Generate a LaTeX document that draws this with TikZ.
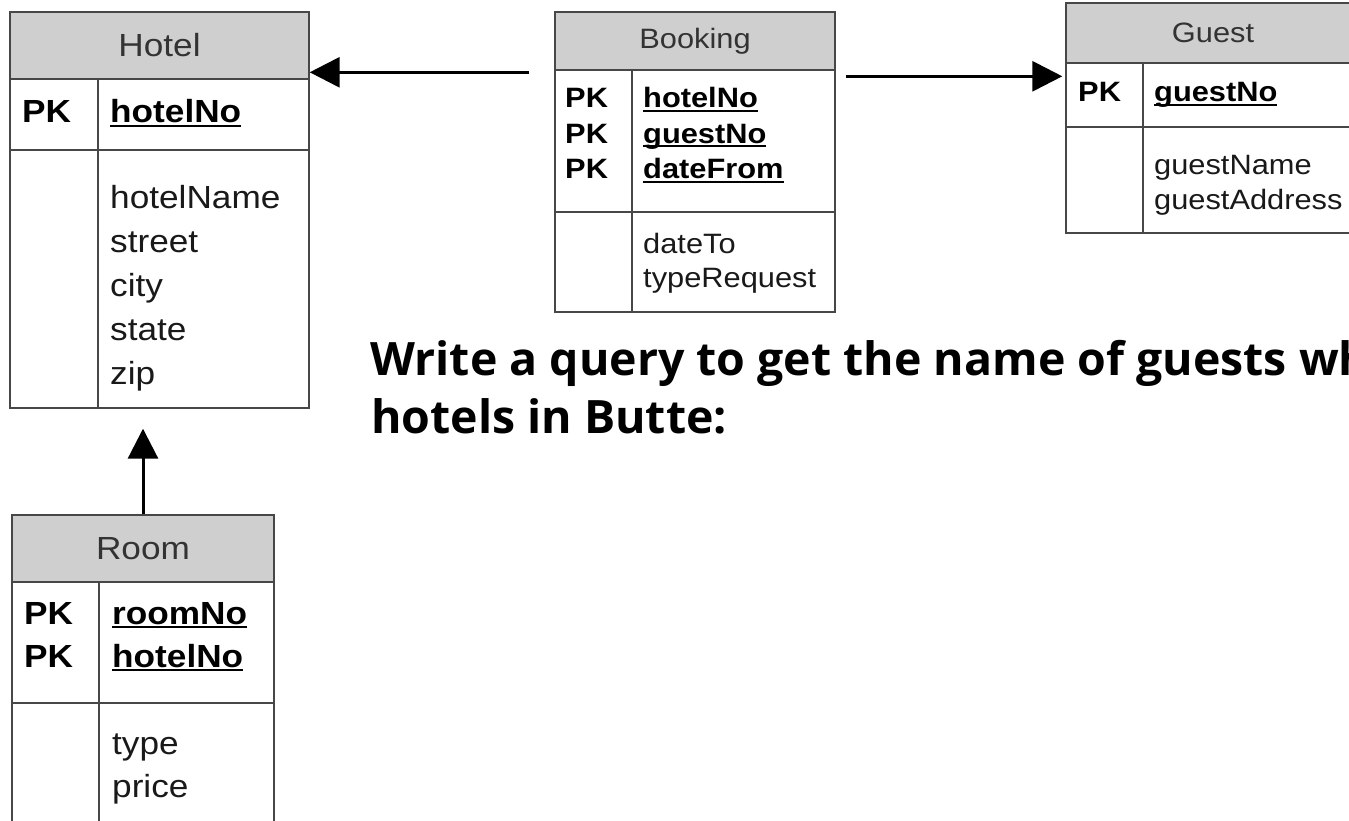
\documentclass[tikz,border=0pt]{standalone}
\usepackage{fontspec}
\setmainfont{Liberation Sans}[FakeStretch=1.1]
\newfontfamily\notefont{Open Sans}[FakeStretch=1.01]
\usetikzlibrary{arrows.meta}
\usetikzlibrary{fit}
\usetikzlibrary{calc}

\newcommand\bigsize{\fontsize{32}{38}\selectfont}
\newcommand\smallsize{\fontsize{28}{33}\selectfont}
\newcommand\pk{\textbf{PK}}
\newsavebox\keybox
\newcommand\keyname[1]{\sbox\keybox{\bfseries #1}\rlap{\rule[-0.14em]{\wd\keybox}{0.07em}}\usebox\keybox}

\tikzset{
    table frame/.style={
        draw=black!72,
        line width=1.4pt,
        inner sep=0pt,
    },
    table rule/.style={
        draw=black!72,
        line width=1.4pt,
    },
    header fill/.style={
        fill=black!19,
    },
    header text/.style={
        text=black!80,
        inner sep=0pt,
    },
    key text/.style={
        inner sep=0pt,
        anchor=base west,
    },
    field text/.style={
        text=black!90,
        inner sep=0pt,
        anchor=base west,
    },
    fk arrow/.style={
        line width=3pt,
        -{Triangle[length=30pt, width=30pt]},
    },
}

\begin{document}
\begin{tikzpicture}[x=1pt, y=-1pt]

    \useasboundingbox (0,0) rectangle (1349,821);
    \clip (0,0) rectangle (1349,821);

    % #1 name, #2-#5 corners, #6 column rule, #7 header rule, #8 key rule, #9 title
    \newcommand\erdtable[9]{
        \fill[header fill] (#2,#3) rectangle (#4,#7);
        \node[table frame, fit={(#2,#3) (#4,#5)}] (#1) {};
        \draw[table rule] (#2,#7) -- (#4,#7);
        \draw[table rule] (#2,#8) -- (#4,#8);
        \draw[table rule] (#6,#7) -- (#6,#5);
        \node[header text] (#1-title) at ({(#2+#4)/2}, {(#3+#7)/2}) {#9};
    }

    % Hotel
    \begin{scope}[font=\bigsize]
        \erdtable{hotel}{10}{12}{309}{408}{98}{79}{150}{Hotel}
        \node[key text] (hotel-pk1) at (22,123) {\pk};
        \node[key text] (hotel-k1) at (110,123) {\keyname{hotelNo}};
        \foreach \f [count=\i] in {hotelName,street,city,state,zip}
        {
            \node[field text] (hotel-f\i) at (110, {208+44*(\i-1)}) {\f};
        }
    \end{scope}

    % Room
    \begin{scope}[font=\bigsize]
        \erdtable{room}{12}{515}{274}{860}{99}{582}{703}{Room}
        \foreach \k [count=\i] in {roomNo,hotelNo}
        {
            \node[key text] (room-pk\i) at (24, {624+43*(\i-1)}) {\pk};
            \node[key text] (room-k\i) at (112, {624+43*(\i-1)}) {\keyname{\k}};
        }
        \foreach \f [count=\i] in {type,price}
        {
            \node[field text] (room-f\i) at (112, {754+43*(\i-1)}) {\f};
        }
    \end{scope}

    % Booking
    \begin{scope}[font=\smallsize]
        \erdtable{booking}{555}{12}{835}{312}{632}{70}{212}{Booking}
        \foreach \k [count=\i] in {hotelNo,guestNo,dateFrom}
        {
            \node[key text] (booking-pk\i) at (565, {108+35.5*(\i-1)}) {\pk};
            \node[key text] (booking-k\i) at (643, {108+35.5*(\i-1)}) {\keyname{\k}};
        }
        \foreach \f [count=\i] in {dateTo,typeRequest}
        {
            \node[field text] (booking-f\i) at (643, {253+34*(\i-1)}) {\f};
        }
    \end{scope}

    % Guest
    \begin{scope}[font=\smallsize]
        \erdtable{guest}{1066}{3}{1360}{233}{1143}{63}{127}{Guest}
        \node[key text] (guest-pk1) at (1078,102) {\pk};
        \node[key text] (guest-k1) at (1154,102) {\keyname{guestNo}};
        \foreach \f [count=\i] in {guestName,guestAddress}
        {
            \node[field text] (guest-f\i) at (1154, {175+35*(\i-1)}) {\f};
        }
    \end{scope}

    % foreign keys
    \draw[fk arrow, shorten <=25pt] ([yshift=-61pt]booking.north west) -- ([yshift=-61pt]hotel.north east);
    \draw[fk arrow, shorten <=10pt, shorten >=3pt] ([yshift=-65pt]booking.north east) -- ([yshift=-74pt]guest.north west);
    \draw[fk arrow, shorten >=20pt] (room.north) -- (room.north |- hotel.south);

    % question
    \node[anchor=base west, inner sep=0pt, font=\notefont\bfseries\fontsize{46}{58}\selectfont] (note1) at (370,375) {Write a query to get the name of guests wh};
    \node[anchor=base west, inner sep=0pt, font=\notefont\bfseries\fontsize{46}{58}\selectfont] (note2) at (371,433) {hotels in Butte:};

\end{tikzpicture}
\end{document}
